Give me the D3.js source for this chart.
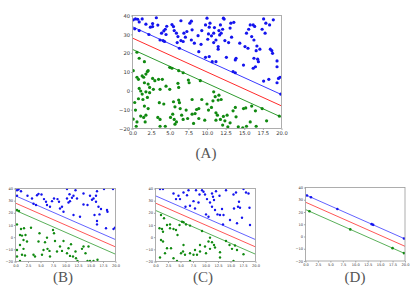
<!DOCTYPE html>
<html>
<head>
<meta charset="utf-8">
<script src="https://cdn.jsdelivr.net/npm/d3@7"></script>
<style>
  body { margin: 0; background: #fff; }
  svg { display: block; }
</style>
</head>
<body>
<svg id="chart" width="418" height="287"></svg>
<script>
// boundary lines: y = intercept + slope * x
const lineSlope = -1.8;
const lineIntercepts = [34, 28, 22];
const lineColors = ["#3a3aff", "#ff2b2b", "#2f9a2f"];

const xTicks = [0, 2.5, 5, 7.5, 10, 12.5, 15, 17.5, 20];
const yTicks = [-20, -10, 0, 10, 20, 30, 40];

// panel A
const blueA = [[0.1,37.7],[0.4,38.2],[0.7,38],[1.3,38.2],[0.9,36.6],[0.3,32.9],[0.9,32],[2.2,29.9],[2.4,33.8],[2.7,34.1],
  [2.7,35.7],[3.4,34.9],[3.7,27],[4.1,26.7],[4.3,26.2],[3.9,30.6],[4.2,31.8],[4.4,32.7],[4.6,34.3],[4.5,29.9],
  [5.5,34.1],[5.3,35.2],[5.6,32],[5.9,30.6],[6.1,28.8],[6,25.6],[6.3,22.6],[6.5,26.7],[6.5,37.2],[6.8,26.2],
  [6.9,30.6],[7.1,28.5],[7.3,31.5],[7.7,35.9],[7.9,37],[8,32.4],[7.9,27],[8.3,25.3],[8.8,29.3],[8.9,20.8],
  [9.2,24.7],[9.3,32],[9.8,35],[10,38.6],[10.2,30.2],[10.3,33.8],[10.4,35.9],[10.1,27.4],[9.8,17.8],[10.3,18.2],
  [10.6,29.2],[10.9,25.6],[10.9,30.6],[11,33.6],[11.2,27],[11.2,15.5],[10.7,15.5],[11.5,23.5],[11.7,29.7],[11.5,22.1],
  [11.6,32],[11.9,30.6],[11.8,35],[12.1,32.7],[12.2,38.6],[12.4,26.7],[12.6,17.8],[12.9,25.6],[13.1,33.3],[13.2,35.9],
  [13.3,28.5],[13.6,36.4],[13.5,10.2],[13.8,9.6],[13.8,16.4],[13.9,17.3],[14.4,25.3],[14.9,13.7],[15.1,23.5],[15.3,30.6],
  [15.5,22.6],[15.6,32.7],[15.8,35],[16,28.8],[16.2,35],[16.4,34.2],[16.3,27],[16.3,17.3],[16.2,12],[16.5,12.8],
  [16.6,21.3],[16.7,23.8],[16.8,16.8],[16.9,15.5],[17.1,22.1],[17.4,32.7],[17.6,38.2],[17.8,30.6],[17.9,35.9],[17.6,5.2],
  [18.3,6.1],[18.4,35],[18.5,22.1],[18.7,21.3],[18.8,19.9],[18.9,37.7],[19.4,15.9],[19.4,12.8],[19.6,6.6],[19.8,7.2],
  [19.9,-1.7],[19.4,4.3],[3.2,38.8],[1.8,35.4],[12.3,38.1]];
const greenA = [[0.6,20.5],[0.9,17.3],[0.1,10.7],[0.6,7.2],[0.8,6.1],[1.6,15.5],[1.3,7.9],[1.5,7.2],[1.8,8.9],[2,10.2],
  [2.1,10.7],[1.6,4.3],[2.1,3.6],[2.3,1.8],[0.9,1.3],[1.1,-0.1],[1.3,-1.7],[1.8,-0.5],[2.3,-1],[2,-3.5],
  [0.8,-4.2],[1.4,-4.6],[1.6,-8.1],[0.3,-6.2],[0.4,-10.2],[0.1,-15],[0.6,-16.5],[0.5,-18.8],[1.1,-13.4],[1.5,-14.1],
  [1.8,-12.9],[1.7,-16.5],[2.1,-9.4],[2.7,6.6],[2.8,0.8],[3,5.4],[3.5,6.1],[4,6.1],[3.7,0.8],[3.6,-6.3],
  [4.2,-7],[3.4,-14.1],[3.7,-15.2],[3.7,-18.8],[4.4,-18.8],[4.5,2.5],[5,12.5],[5.3,12],[5,0.8],[5.1,-14.1],
  [5.4,-12.4],[5.5,-5.8],[5.7,-8.5],[5.6,-15.2],[5.7,-17.7],[5.9,-16.5],[6.1,4],[6.2,1.8],[6.2,-4.9],[6.2,10.7],
  [6.3,-6.3],[6.4,-9.4],[6.6,-12.9],[6.8,-15.2],[6.8,9.6],[7.2,-10.2],[7.4,-14.7],[7.5,5.7],[7.6,4.3],[8,-4.6],
  [8.2,-17.3],[8,-12.4],[8.4,-12.1],[8.6,-9.9],[8.9,-9.4],[9.1,5.4],[8.9,-14.7],[9.3,-4.6],[9.7,-15.6],[10,-7],
  [10.2,-10.2],[10.6,-8.8],[10.8,-5.3],[10.9,-0.5],[11.1,-3.1],[11.2,-11.7],[11.2,-15.6],[11.4,-12.9],[11.5,-4.9],[11.6,-2.3],
  [11.9,-4.6],[11.8,-15.2],[12.1,-18.2],[12.2,-13.6],[12.4,-15.9],[12.7,-12.9],[12.8,-19.1],[13.1,-17],[13.5,-10.6],[13.8,-8.8],
  [13.9,-13.8],[14.2,-19.1],[14.8,-19.6],[14.9,-9.4],[15.2,-9.1],[15.3,-18.8],[15.8,-16.5],[16,-8.1],[16.5,-10.6],[16.6,-18.8],
  [17.4,-9.4],[18,-15.9],[19.7,-13.4]];

// panel B
const blueB = [[0.3,38.6],[1.1,37.8],[0.3,34],[2.4,34],[3.3,31.8],[3.6,27.5],[4.1,26.4],[4.3,34.5],[5.2,35.1],[5.7,31.3],
  [6.1,29.1],[6.3,26.4],[6.9,25],[7.3,29.6],[7.7,31.8],[8.4,31.3],[8.7,29.1],[8.9,23.6],[9.6,20.9],[10.3,39.6],
  [10.3,31.8],[10.6,28.5],[10.9,29.6],[11.3,32.4],[11.6,34],[12,38.6],[12.3,31.8],[12.9,16.8],[13.6,26.9],[14.4,26.4],
  [14.9,34],[15.3,30.7],[15.6,31.8],[16.1,29.1],[16.1,34.1],[16.3,37.8],[15.8,18.2],[16.3,13.3],[16.3,10.5],[16.6,25],
  [17.1,23.1],[17.7,39.6],[18.3,22.3],[18.4,20.9],[18.1,7.3],[19.5,39.5],[19.6,6.7],[19.9,7.8],[13.6,35.9],[9.3,25],
  [11.6,18.2],[16.8,18.7],[0.6,39.2],[4.6,35.6],[10.8,35.3]];
const greenB = [[0.3,22.3],[0.7,21.5],[0.3,10.5],[1.1,6.7],[1.7,7.3],[3.1,7.8],[0.9,1.8],[1.3,1.3],[2,1.8],[1.6,-2.3],
  [2.3,-3.6],[0.9,-6.4],[0.3,-10.5],[1.6,-9.6],[1.3,-14.5],[1.9,-15.1],[0.3,-15.9],[0.9,-19.5],[3.6,-14.5],[3.9,-15.9],
  [4.8,3.2],[5.3,-14.5],[5.9,-4.2],[6.3,-0.4],[6.4,-9.6],[6.8,-11.3],[6.9,-15.9],[7.5,5.9],[7.7,3.2],[7.9,-3.1],
  [8.3,-11.8],[8.9,-7.7],[9.3,-11.3],[9.6,-3.1],[10.3,-13.2],[10.6,-9.1],[10.9,-15.4],[11.1,-5.8],[11.5,-15.9],[12,-11.8],
  [12.1,-17.3],[12.4,-19.6],[13.3,-9.6],[13.6,-7.7],[14,-13.2],[14.6,-7.7],[14.9,-19.5],[15.6,-19.5],[14.4,-19.5],[16.4,-18.6],
  [5.6,-10.5],[4.6,-3.6]];

// panel C
const blueC = [[0.9,39.5],[1.5,39.5],[3.6,35.9],[4.1,31.3],[4.6,34],[4.9,31.3],[5.6,36.7],[6.3,34.5],[6.6,38.6],[6,25],
  [6.9,25.8],[7.6,29.6],[7.9,23.6],[8.1,38.6],[9.3,38.6],[9.6,37.3],[9.9,35.1],[10.3,31.3],[10.1,18.7],[10.6,16.8],
  [10.9,28.5],[11.3,25],[11.5,33.2],[11.7,30.5],[11.9,22.3],[12.1,37.8],[12.4,18.7],[12.9,18.2],[13.3,23.1],[13.5,10.5],
  [13.6,18.2],[14.1,38.6],[14.9,14.1],[15.6,35.1],[15.7,23.6],[16.1,36.7],[16.3,11.4],[16.5,25],[16.7,29.1],[16.9,24.2],
  [17.6,39.5],[18.1,36.7],[18.6,35.9],[18.8,24.2],[18.9,10],[17.3,16],[8.6,28.5],[11.3,35.9],[12.8,34],[8.8,35.1]];
const greenC = [[1.1,18.2],[1.7,15.5],[2.3,10],[2.9,10.5],[0.8,7.3],[1.3,6.7],[1.5,4.5],[2.9,7.3],[3.6,6.7],[4.1,5.9],
  [4.4,1.8],[4.8,10],[5.3,12.7],[5.6,12.2],[6.1,10.5],[6.9,9.5],[1.1,-2.3],[1.5,-3.6],[2.3,-9.1],[3.1,-9.1],
  [1.9,-13.2],[0.9,-16.7],[5.6,-6.4],[5.5,-11.8],[5.1,-13.2],[5.9,-14.5],[6.9,-13.2],[7.6,-14.5],[7.9,-10.5],[8.3,-14.5],
  [8.9,-11.8],[9.3,5.1],[8.9,-6.4],[9.9,-7.7],[10.1,-13.2],[10.9,-0.4],[10.9,-9.6],[10.6,-3.6],[11.3,-4.2],[11.7,-6.4],
  [11.9,-8.5],[12.9,-16.7],[12.9,-12.4],[14.1,-3.1],[14.8,-6.4],[15.3,-9.6],[15.9,-6.9],[15.6,-19.5],[16.3,-10.5],[17.6,-14],
  [6.9,-19.5],[4.3,-19.5],[3.6,-17.3]];

// panel D (support vectors only)
const blueD = [[0.3,33.5],[1.1,32],[6.4,22.5],[13.3,10.1],[13.6,9.5],[19.8,-1.6]];
const greenD = [[0.8,20.6],[9,5.8],[17.5,-9.5],[19.8,-13.6]];

const panels = [
  {label: "(A)", blue: blueA, green: greenA, left: 132.5, top: 15.5, w: 149, h: 113, r: 1.6, fs: 5.2, lx: 206, ly: 158},
  {label: "(B)", blue: blueB, green: greenB, left: 15.5, top: 188.5, w: 100, h: 73, r: 1.2, fs: 3.6, lx: 63, ly: 282},
  {label: "(C)", blue: blueC, green: greenC, left: 155.5, top: 188.5, w: 100, h: 73, r: 1.2, fs: 3.6, lx: 203, ly: 282},
  {label: "(D)", blue: blueD, green: greenD, left: 305.5, top: 187.5, w: 99.5, h: 73.5, r: 1.3, fs: 3.6, lx: 355, ly: 282}
];

const svg = d3.select("#chart");

panels.forEach(p => {
  const x = d3.scaleLinear().domain([0, 20]).range([0, p.w]);
  const y = d3.scaleLinear().domain([-20, 40]).range([p.h, 0]);

  const g = svg.append("g")
      .attr("transform", `translate(${p.left},${p.top})`);

  g.append("rect")
      .attr("width", p.w)
      .attr("height", p.h)
      .attr("fill", "#fff");

  g.append("clipPath")
      .attr("id", "clip" + p.label[1])
    .append("rect")
      .attr("width", p.w)
      .attr("height", p.h);

  const plot = g.append("g").attr("clip-path", `url(#clip${p.label[1]})`);

  plot.selectAll("line.sep")
    .data(lineIntercepts)
    .join("line")
      .attr("class", "sep")
      .attr("x1", x(0))
      .attr("y1", d => y(d))
      .attr("x2", x(20))
      .attr("y2", d => y(d + lineSlope * 20))
      .attr("stroke", (d, i) => lineColors[i])
      .attr("stroke-width", p.r > 1.4 ? 1 : 0.8);

  plot.selectAll("circle.b")
    .data(p.blue)
    .join("circle")
      .attr("class", "b")
      .attr("cx", d => x(d[0]))
      .attr("cy", d => y(d[1]))
      .attr("r", p.r)
      .attr("fill", "#1414ee");

  plot.selectAll("circle.g")
    .data(p.green)
    .join("circle")
      .attr("class", "g")
      .attr("cx", d => x(d[0]))
      .attr("cy", d => y(d[1]))
      .attr("r", p.r)
      .attr("fill", "#118a11");

  const xAxis = d3.axisBottom(x).tickValues(xTicks).tickSize(1.5).tickPadding(1).tickFormat(d3.format(".1f"));
  const yAxis = d3.axisLeft(y).tickValues(yTicks).tickSize(1.5).tickPadding(1).tickFormat(d3.format("d"));

  const gx = g.append("g").attr("transform", `translate(0,${p.h})`).call(xAxis);
  const gy = g.append("g").call(yAxis);
  [gx, gy].forEach(a => {
    a.select(".domain").remove();
    a.selectAll("line").attr("stroke", "#555").attr("stroke-width", 0.5);
    a.selectAll("text")
        .attr("fill", "#333")
        .style("font", `${p.fs}px 'DejaVu Sans', sans-serif`);
  });

  g.append("rect")
      .attr("width", p.w)
      .attr("height", p.h)
      .attr("fill", "none")
      .attr("stroke", "#999")
      .attr("stroke-width", 0.8);

  svg.append("text")
      .attr("x", p.lx)
      .attr("y", p.ly)
      .attr("text-anchor", "middle")
      .attr("fill", "#555")
      .style("font", "15px 'Liberation Serif', serif")
      .text(p.label);
});
</script>
</body>
</html>
